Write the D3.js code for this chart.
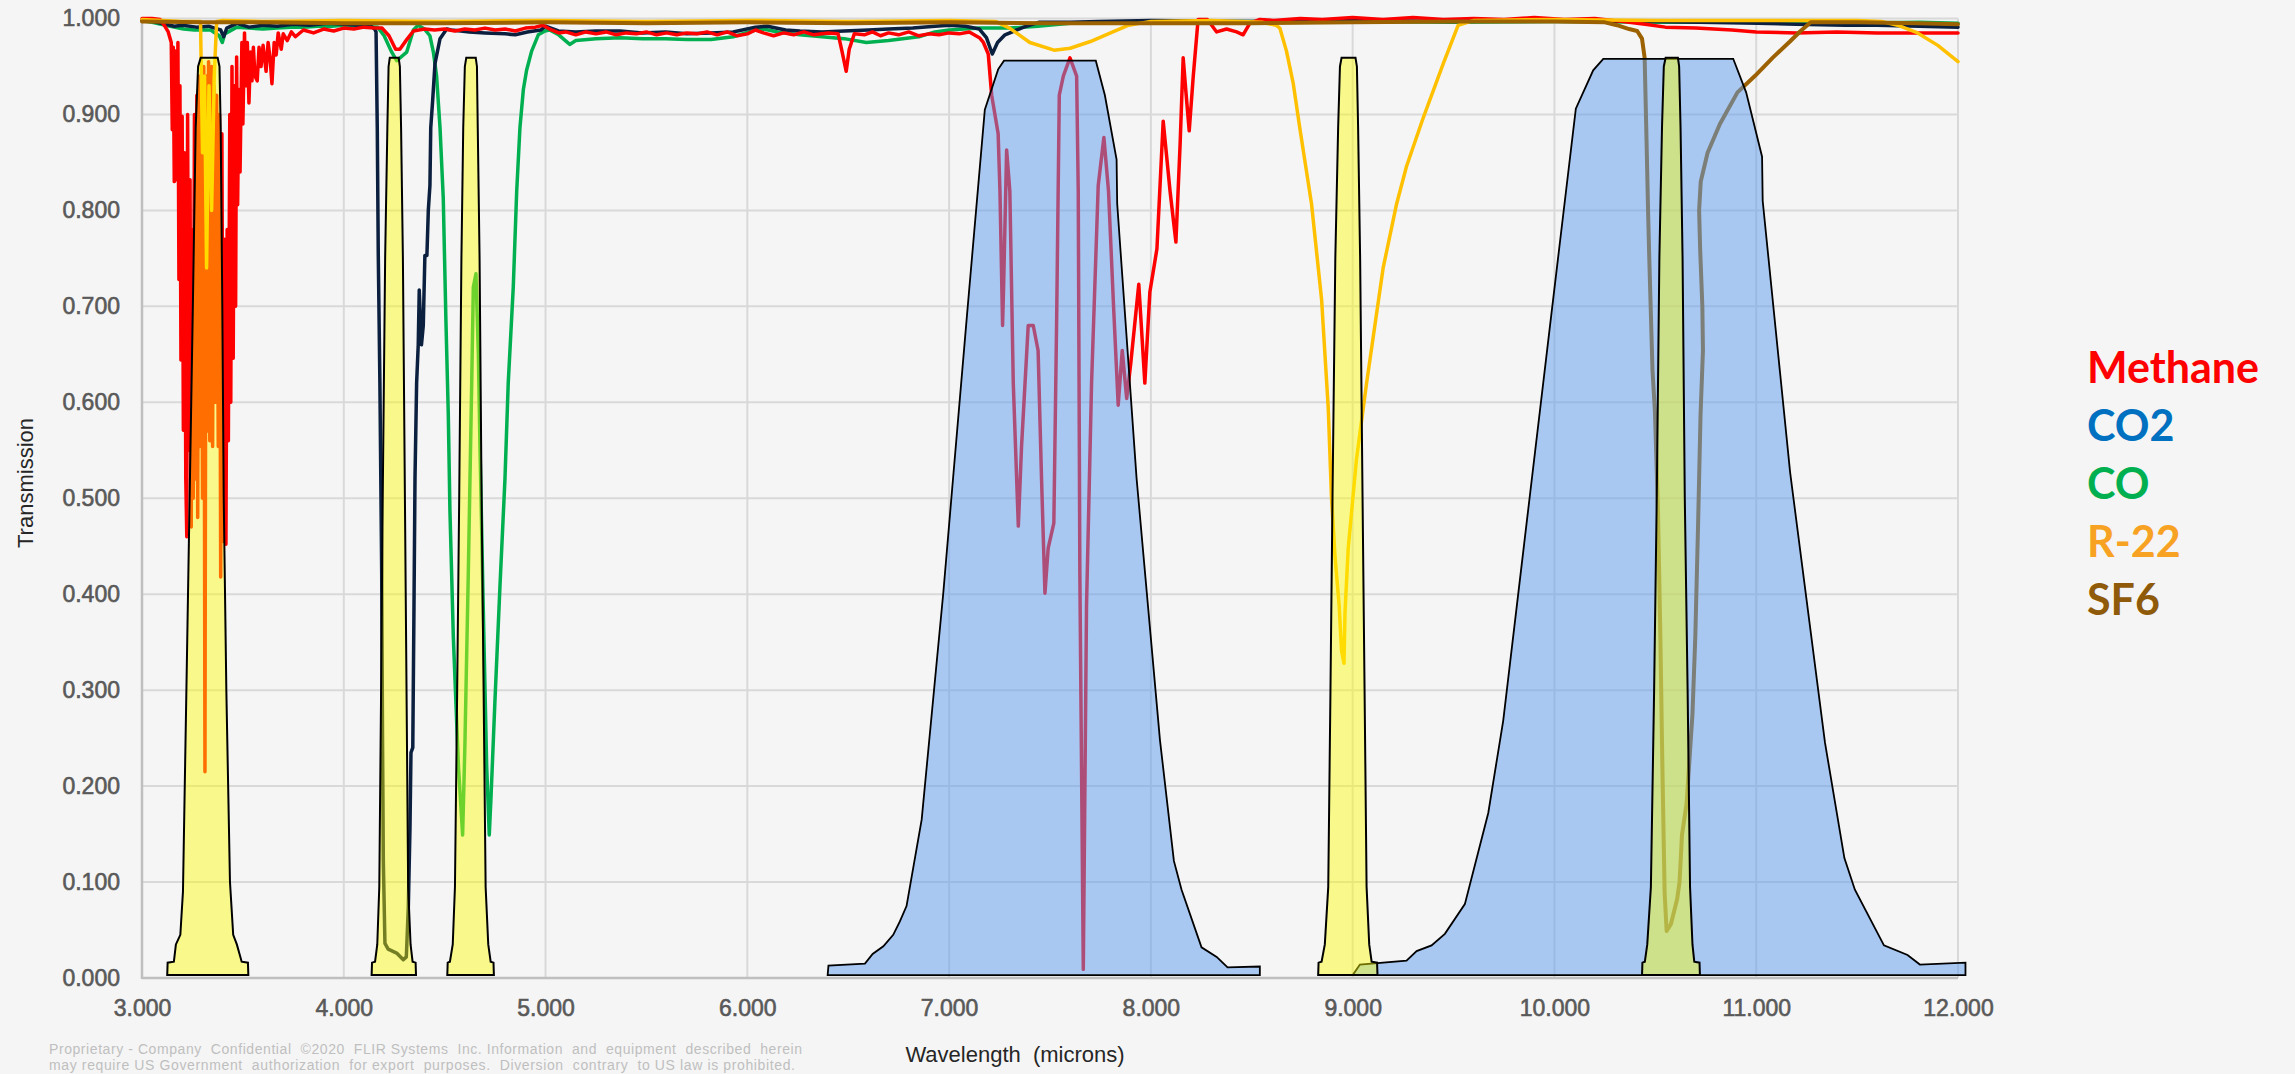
<!DOCTYPE html>
<html>
<head>
<meta charset="utf-8">
<script src="https://cdn.jsdelivr.net/npm/d3@7"></script>
<style>
  html, body { margin: 0; padding: 0; background: #f5f5f5; }
  svg { display: block; }
</style>
</head>
<body>
<div id="chart"></div>
<script>
// ---- data: [wavelength (microns), transmission] ----
const xTicks = [3, 4, 5, 6, 7, 8, 9, 10, 11, 12];
const yTicks = [0, 0.1, 0.2, 0.3, 0.4, 0.5, 0.6, 0.7, 0.8, 0.9, 1.0];

const legendLabels = ['Methane', 'CO2', 'CO', 'R-22', 'SF6'];
const legendColors = ['#ff0000', '#0070c0', '#00b050', '#f8a223', '#8f5b0b'];

const methane = [
  [3.00,1.000],[3.05,1.000],[3.09,0.999],[3.11,0.993],[3.13,0.986],[3.145,0.975],
  [3.150,0.884],[3.155,0.970],[3.160,0.830],[3.166,0.966],[3.172,0.832],[3.178,0.975],
  [3.183,0.728],[3.188,0.930],[3.193,0.644],[3.199,0.898],[3.205,0.571],[3.211,0.860],
  [3.217,0.520],[3.222,0.460],[3.226,0.900],[3.232,0.550],[3.238,0.832],[3.244,0.470],
  [3.250,0.780],[3.254,0.500],[3.260,0.900],[3.266,0.520],[3.272,0.920],[3.276,0.480],
  [3.282,0.940],[3.287,0.554],[3.293,0.930],[3.300,0.500],[3.306,0.950],[3.312,0.215],
  [3.318,0.940],[3.324,0.570],[3.330,0.955],[3.336,0.560],[3.345,0.950],[3.350,0.554],
  [3.356,0.930],[3.362,0.600],[3.370,0.920],[3.378,0.554],[3.384,0.900],[3.390,0.418],
  [3.396,0.880],[3.403,0.455],[3.410,0.770],[3.416,0.452],[3.422,0.780],[3.428,0.560],
  [3.435,0.900],[3.440,0.600],[3.446,0.950],[3.452,0.646],[3.458,0.930],[3.464,0.700],
  [3.469,0.960],[3.474,0.806],[3.480,0.926],[3.486,0.840],[3.495,0.975],[3.500,0.890],
  [3.508,0.985],[3.514,0.930],[3.522,0.975],[3.530,0.912],[3.538,0.965],[3.545,0.935],
  [3.552,0.970],[3.560,0.940],[3.571,0.935],[3.580,0.970],[3.590,0.950],[3.600,0.972],
  [3.615,0.945],[3.625,0.975],[3.635,0.958],[3.644,0.932],[3.655,0.975],[3.665,0.962],
  [3.675,0.985],[3.690,0.968],[3.700,0.984],[3.720,0.977],[3.740,0.986],[3.760,0.981],
  [3.800,0.988],[3.850,0.985],[3.900,0.989],[3.950,0.987],[4.000,0.990],[4.050,0.989],
  [4.100,0.991],[4.150,0.990],[4.190,0.990],[4.224,0.982],[4.257,0.968],[4.278,0.968],
  [4.312,0.978],[4.345,0.987],[4.400,0.989],[4.450,0.988],[4.500,0.989],[4.550,0.987],
  [4.600,0.989],[4.650,0.988],[4.700,0.990],[4.750,0.988],[4.800,0.989],[4.850,0.987],
  [4.900,0.990],[4.950,0.991],[4.987,0.993],[5.020,0.989],[5.065,0.985],[5.100,0.986],
  [5.150,0.983],[5.200,0.986],[5.250,0.984],[5.300,0.986],[5.350,0.983],[5.400,0.985],
  [5.450,0.984],[5.500,0.986],[5.550,0.983],[5.600,0.985],[5.650,0.983],[5.700,0.985],
  [5.750,0.984],[5.800,0.986],[5.850,0.983],[5.900,0.986],[5.950,0.982],[6.000,0.984],
  [6.040,0.988],[6.080,0.985],[6.130,0.982],[6.180,0.985],[6.230,0.983],[6.280,0.986],
  [6.330,0.983],[6.400,0.985],[6.450,0.984],[6.470,0.965],[6.490,0.945],[6.505,0.968],
  [6.530,0.984],[6.580,0.983],[6.620,0.986],[6.660,0.982],[6.700,0.985],[6.750,0.983],
  [6.800,0.986],[6.850,0.982],[6.900,0.984],[6.950,0.983],[7.000,0.985],[7.050,0.984],
  [7.100,0.986],[7.150,0.980],[7.170,0.975],[7.194,0.963],[7.211,0.920],[7.243,0.880],
  [7.252,0.820],[7.265,0.680],[7.270,0.720],[7.285,0.863],[7.301,0.820],[7.318,0.620],
  [7.343,0.471],[7.359,0.554],[7.392,0.680],[7.417,0.680],[7.441,0.654],[7.458,0.521],
  [7.475,0.401],[7.491,0.448],[7.519,0.474],[7.533,0.687],[7.546,0.920],[7.566,0.940],
  [7.599,0.959],[7.632,0.940],[7.640,0.820],[7.648,0.421],[7.665,0.009],[7.681,0.388],
  [7.706,0.620],[7.739,0.826],[7.767,0.876],[7.790,0.820],[7.815,0.700],[7.838,0.597],
  [7.858,0.654],[7.880,0.604],[7.900,0.640],[7.940,0.723],[7.970,0.620],[7.995,0.715],
  [8.030,0.760],[8.061,0.893],[8.095,0.820],[8.124,0.767],[8.145,0.870],[8.160,0.959],
  [8.175,0.920],[8.190,0.883],[8.210,0.940],[8.234,0.999],[8.280,0.999],[8.326,0.986],
  [8.375,0.989],[8.425,0.986],[8.457,0.983],[8.490,0.995],[8.540,0.999],[8.610,0.998],
  [8.740,1.000],[8.850,0.999],[9.000,1.001],[9.150,0.999],[9.300,1.001],[9.450,0.999],
  [9.600,1.000],[9.750,0.999],[9.900,1.001],[10.050,0.999],[10.200,1.000],[10.330,0.997],
  [10.450,0.994],[10.550,0.991],[10.700,0.990],[10.880,0.988],[11.000,0.986],[11.200,0.985],
  [11.400,0.986],[11.600,0.985],[11.800,0.985],[12.000,0.985]
];

const co2 = [
  [3.00,0.998],[3.05,0.997],[3.117,0.994],[3.16,0.992],[3.20,0.993],[3.27,0.991],[3.33,0.992],
  [3.36,0.990],[3.39,0.988],[3.405,0.981],[3.42,0.990],[3.47,0.995],[3.53,0.991],[3.60,0.993],
  [3.67,0.992],[3.75,0.994],[3.83,0.993],[3.92,0.995],[4.00,0.994],[4.07,0.993],[4.135,0.992],
  [4.153,0.989],[4.160,0.986],[4.166,0.886],[4.171,0.753],[4.179,0.620],[4.188,0.421],
  [4.192,0.250],[4.196,0.122],[4.204,0.036],[4.220,0.030],[4.262,0.026],[4.295,0.019],
  [4.310,0.022],[4.320,0.075],[4.328,0.155],[4.333,0.235],[4.342,0.240],[4.348,0.388],
  [4.353,0.521],[4.361,0.620],[4.369,0.660],[4.374,0.717],[4.385,0.660],[4.394,0.680],
  [4.402,0.753],[4.412,0.753],[4.419,0.800],[4.427,0.826],[4.431,0.886],[4.440,0.913],
  [4.452,0.953],[4.477,0.979],[4.510,0.989],[4.533,0.988],[4.58,0.987],[4.622,0.986],
  [4.70,0.985],[4.80,0.984],[4.85,0.983],[4.91,0.986],[4.976,0.988],[5.000,0.992],
  [5.064,0.987],[5.15,0.986],[5.25,0.987],[5.37,0.987],[5.48,0.985],[5.595,0.986],
  [5.70,0.984],[5.82,0.985],[5.93,0.986],[6.04,0.991],[6.10,0.992],[6.19,0.988],[6.26,0.987],
  [6.37,0.986],[6.48,0.987],[6.60,0.988],[6.70,0.989],[6.82,0.990],[6.93,0.992],[7.00,0.993],
  [7.08,0.992],[7.15,0.989],[7.185,0.980],[7.214,0.963],[7.240,0.975],[7.277,0.983],
  [7.37,0.991],[7.444,0.996],[7.60,0.996],[7.74,0.997],[8.00,0.998],[8.5,0.997],[9.0,0.998],
  [9.5,0.997],[10.0,0.998],[10.5,0.997],[11.01,0.995],[11.2,0.994],[11.44,0.993],
  [11.6,0.993],[11.81,0.992],[12.0,0.991]
];

const co = [
  [3.00,0.998],[3.05,0.996],[3.117,0.993],[3.206,0.989],[3.26,0.988],[3.34,0.988],[3.383,0.982],
  [3.398,0.975],[3.41,0.984],[3.47,0.991],[3.53,0.990],[3.60,0.989],[3.67,0.990],[3.737,0.991],
  [3.80,0.991],[3.87,0.992],[3.94,0.992],[4.00,0.993],[4.08,0.992],[4.168,0.991],[4.20,0.982],
  [4.235,0.966],[4.262,0.956],[4.312,0.965],[4.345,0.988],[4.368,0.993],[4.40,0.989],
  [4.427,0.982],[4.444,0.965],[4.460,0.940],[4.477,0.886],[4.493,0.813],[4.506,0.687],
  [4.518,0.587],[4.526,0.488],[4.543,0.355],[4.568,0.222],[4.589,0.149],[4.600,0.240],
  [4.617,0.421],[4.634,0.620],[4.642,0.720],[4.655,0.734],[4.667,0.650],[4.675,0.554],
  [4.691,0.388],[4.708,0.222],[4.721,0.149],[4.730,0.190],[4.749,0.288],[4.774,0.408],
  [4.799,0.521],[4.815,0.620],[4.840,0.720],[4.857,0.820],[4.873,0.886],[4.890,0.926],
  [4.906,0.946],[4.931,0.966],[4.964,0.983],[4.997,0.987],[5.02,0.988],[5.065,0.983],
  [5.12,0.973],[5.15,0.977],[5.25,0.979],[5.37,0.980],[5.48,0.979],[5.595,0.979],[5.70,0.978],
  [5.82,0.978],[5.93,0.981],[6.04,0.988],[6.08,0.989],[6.15,0.986],[6.26,0.983],[6.37,0.981],
  [6.48,0.979],[6.59,0.975],[6.70,0.977],[6.85,0.981],[6.93,0.986],[7.00,0.988],[7.15,0.990],
  [7.30,0.990],[7.44,0.992],[7.60,0.995],[8.0,0.996],[8.5,0.997],[9.0,0.997],[9.5,0.996],
  [10.0,0.997],[10.5,0.996],[11.0,0.996],[11.44,0.995],[11.81,0.996],[12.0,0.995]
];

const r22 = [
  [3.00,0.999],[3.10,0.998],[3.20,0.997],[3.290,0.997],[3.300,0.860],[3.310,0.940],
  [3.320,0.740],[3.332,0.930],[3.345,0.800],[3.358,0.940],[3.370,0.997],[3.40,0.998],
  [3.60,0.997],[4.00,0.998],[4.50,0.997],[5.00,0.998],[5.50,0.997],[6.00,0.998],[6.50,0.997],
  [7.00,0.998],[7.23,0.997],[7.30,0.990],[7.40,0.975],[7.52,0.967],[7.60,0.969],[7.70,0.976],
  [7.80,0.985],[7.89,0.993],[8.00,0.997],[8.30,0.998],[8.55,0.996],[8.62,0.993],[8.639,0.990],
  [8.672,0.966],[8.705,0.933],[8.738,0.886],[8.796,0.807],[8.846,0.707],[8.879,0.594],
  [8.895,0.501],[8.912,0.441],[8.933,0.388],[8.945,0.341],[8.957,0.328],[8.962,0.381],
  [8.978,0.448],[9.019,0.541],[9.069,0.620],[9.151,0.740],[9.218,0.807],[9.267,0.846],
  [9.349,0.896],[9.449,0.953],[9.523,0.993],[9.60,0.998],[10.0,0.999],[10.5,0.998],
  [11.0,0.998],[11.5,0.998],[11.62,0.997],[11.70,0.993],[11.80,0.985],[11.90,0.972],
  [12.00,0.955]
];

const sf6 = [
  [3.00,0.997],[3.3,0.996],[3.6,0.996],[4.0,0.995],[4.5,0.995],[5.0,0.996],[5.5,0.995],
  [6.0,0.996],[6.5,0.995],[7.0,0.996],[7.5,0.995],[8.0,0.995],[8.5,0.995],[9.0,0.996],
  [9.5,0.997],[10.0,0.997],[10.25,0.996],[10.31,0.993],[10.37,0.989],[10.41,0.987],
  [10.434,0.979],[10.447,0.959],[10.455,0.886],[10.464,0.800],[10.470,0.750],[10.486,0.633],
  [10.498,0.590],[10.513,0.488],[10.525,0.355],[10.535,0.220],[10.546,0.089],[10.556,0.049],
  [10.577,0.056],[10.608,0.082],[10.620,0.100],[10.632,0.149],[10.655,0.182],[10.684,0.275],
  [10.698,0.355],[10.712,0.474],[10.724,0.587],[10.736,0.654],[10.733,0.700],[10.722,0.760],
  [10.717,0.800],[10.725,0.830],[10.759,0.860],[10.820,0.890],[10.907,0.923],[10.993,0.940],
  [11.081,0.959],[11.167,0.976],[11.220,0.987],[11.270,0.996],[11.500,0.996],[11.800,0.995],
  [12.000,0.994]
];

// narrow (yellow) and wide (blue) filter pass-bands
const filter33 = [
  [3.125,0.003],[3.127,0.016],[3.158,0.017],[3.168,0.035],[3.190,0.045],[3.203,0.090],
  [3.220,0.300],[3.236,0.500],[3.252,0.700],[3.266,0.886],[3.278,0.950],[3.291,0.959],
  [3.375,0.959],[3.384,0.950],[3.390,0.886],[3.398,0.700],[3.405,0.500],[3.418,0.300],
  [3.436,0.100],[3.452,0.045],[3.470,0.035],[3.494,0.017],[3.525,0.016],[3.527,0.003]
];
const filter425 = [
  [4.138,0.003],[4.140,0.016],[4.155,0.017],[4.166,0.035],[4.176,0.095],[4.185,0.300],
  [4.193,0.500],[4.205,0.750],[4.216,0.886],[4.222,0.950],[4.228,0.959],[4.272,0.959],
  [4.278,0.950],[4.284,0.886],[4.293,0.750],[4.303,0.500],[4.311,0.300],[4.319,0.095],
  [4.331,0.035],[4.341,0.017],[4.356,0.016],[4.358,0.003]
];
const filter463 = [
  [4.513,0.003],[4.515,0.016],[4.526,0.017],[4.540,0.035],[4.551,0.095],[4.562,0.300],
  [4.572,0.500],[4.583,0.750],[4.592,0.886],[4.600,0.950],[4.607,0.959],[4.654,0.959],
  [4.660,0.950],[4.664,0.886],[4.673,0.750],[4.683,0.500],[4.693,0.300],[4.703,0.095],
  [4.716,0.035],[4.728,0.017],[4.742,0.016],[4.744,0.003]
];
const filter898 = [
  [8.829,0.003],[8.831,0.016],[8.846,0.017],[8.862,0.035],[8.879,0.095],[8.890,0.300],
  [8.900,0.500],[8.914,0.750],[8.928,0.886],[8.937,0.950],[8.945,0.959],[9.014,0.959],
  [9.021,0.950],[9.027,0.886],[9.037,0.750],[9.049,0.500],[9.059,0.300],[9.069,0.095],
  [9.082,0.035],[9.094,0.017],[9.121,0.016],[9.123,0.003]
];
const filter1058 = [
  [10.434,0.003],[10.436,0.016],[10.448,0.017],[10.460,0.035],[10.478,0.095],[10.494,0.300],
  [10.507,0.500],[10.520,0.750],[10.533,0.886],[10.542,0.950],[10.551,0.959],[10.612,0.959],
  [10.618,0.950],[10.625,0.886],[10.635,0.750],[10.646,0.500],[10.660,0.300],[10.672,0.095],
  [10.684,0.035],[10.693,0.017],[10.719,0.016],[10.721,0.003]
];
const filterWide75 = [
  [6.398,0.003],[6.402,0.013],[6.583,0.015],[6.621,0.025],[6.674,0.033],[6.723,0.045],
  [6.756,0.059],[6.789,0.075],[6.864,0.165],[6.971,0.401],[7.087,0.687],[7.177,0.905],
  [7.243,0.947],[7.272,0.956],[7.727,0.956],[7.772,0.920],[7.830,0.853],[7.833,0.807],
  [7.929,0.521],[8.045,0.248],[8.114,0.122],[8.152,0.092],[8.251,0.032],[8.326,0.022],
  [8.380,0.011],[8.540,0.012],[8.540,0.003]
];
const filterWide105 = [
  [9.000,0.003],[9.036,0.014],[9.267,0.018],[9.317,0.028],[9.391,0.034],[9.457,0.046],
  [9.556,0.077],[9.672,0.172],[9.746,0.268],[9.862,0.474],[9.986,0.694],[10.106,0.906],
  [10.192,0.946],[10.242,0.958],[10.886,0.958],[10.950,0.923],[11.029,0.856],[11.032,0.810],
  [11.168,0.527],[11.341,0.245],[11.437,0.125],[11.489,0.092],[11.633,0.034],[11.750,0.024],
  [11.811,0.014],[12.037,0.016],[12.037,0.003]
];

// ---- drawing ----
const width = 2295;
const height = 1074;
const axisFont = '"Liberation Sans", Arial, sans-serif';

const svg = d3.select('#chart')
  .append('svg')
    .attr('width', width)
    .attr('height', height);

svg.append('rect')
  .attr('width', width)
  .attr('height', height)
  .attr('fill', '#f5f5f5');

const x = d3.scaleLinear().domain([3, 12]).range([142, 1958]);
const y = d3.scaleLinear().domain([0, 1]).range([978, 18.5]);

// grid lines
const grid = svg.append('g').attr('class', 'grid');
grid.selectAll('.hgrid')
  .data(yTicks.slice(1))
  .enter()
    .append('line')
      .attr('x1', x(3))
      .attr('x2', x(12))
      .attr('y1', d => y(d))
      .attr('y2', d => y(d))
      .attr('stroke', '#d9d9d9')
      .attr('stroke-width', 2);
grid.selectAll('.vgrid')
  .data(xTicks.slice(1))
  .enter()
    .append('line')
      .attr('x1', d => x(d))
      .attr('x2', d => x(d))
      .attr('y1', y(0))
      .attr('y2', y(1))
      .attr('stroke', '#d9d9d9')
      .attr('stroke-width', 2);

// axis lines
svg.append('line')
  .attr('x1', x(3)).attr('x2', x(3))
  .attr('y1', y(0) + 1).attr('y2', y(1))
  .attr('stroke', '#bfbfbf').attr('stroke-width', 2.5);
svg.append('line')
  .attr('x1', x(3)).attr('x2', x(12))
  .attr('y1', y(0)).attr('y2', y(0))
  .attr('stroke', '#bfbfbf').attr('stroke-width', 2.5);

// tick labels
const fmt = d3.format('.3f');
const yAxis = d3.axisLeft(y).tickValues(yTicks).tickFormat(fmt).tickSize(0).tickPadding(22);
const xAxis = d3.axisBottom(x).tickValues(xTicks).tickFormat(fmt).tickSize(0).tickPadding(22);

svg.append('g')
  .attr('transform', `translate(${x(3)},0)`)
  .call(yAxis)
  .call(g => g.select('.domain').remove())
  .attr('font-family', axisFont)
  .attr('font-size', 23)
  .selectAll('text')
    .attr('fill', '#595959')
    .attr('stroke', '#595959')
    .attr('stroke-width', 0.6);

svg.append('g')
  .attr('transform', `translate(0,${y(0)})`)
  .call(xAxis)
  .call(g => g.select('.domain').remove())
  .attr('font-family', axisFont)
  .attr('font-size', 23)
  .selectAll('text')
    .attr('fill', '#595959')
    .attr('stroke', '#595959')
    .attr('stroke-width', 0.6);

// gas transmission lines
const line = d3.line()
  .x(d => x(d[0]))
  .y(d => y(d[1]));

const gases = [
  { data: co, color: '#00b050', w: 3.5 },
  { data: co2, color: '#0b1f3f', w: 3.5 },
  { data: methane, color: '#ff0000', w: 3.5 },
  { data: r22, color: '#ffc000', w: 3.5 },
  { data: sf6, color: '#9c6100', w: 4 }
];
svg.append('g')
  .selectAll('path')
  .data(gases)
  .enter()
    .append('path')
      .attr('d', d => line(d.data))
      .attr('fill', 'none')
      .attr('stroke', d => d.color)
      .attr('stroke-width', d => d.w)
      .attr('stroke-linejoin', 'round')
      .attr('stroke-linecap', 'round');

// filters drawn over the lines, semi transparent
svg.append('g')
  .selectAll('path')
  .data([filterWide75, filterWide105])
  .enter()
    .append('path')
      .attr('d', d => line(d) + 'Z')
      .attr('fill', 'rgb(91,155,240)')
      .attr('fill-opacity', 0.5)
      .attr('stroke', '#000')
      .attr('stroke-width', 1.8);

svg.append('g')
  .selectAll('path')
  .data([filter33, filter425, filter463, filter898, filter1058])
  .enter()
    .append('path')
      .attr('d', d => line(d) + 'Z')
      .attr('fill', '#ffff00')
      .attr('fill-opacity', 0.43)
      .attr('stroke', '#000')
      .attr('stroke-width', 2);

// axis titles
svg.append('text')
  .attr('transform', 'translate(33,483) rotate(-90)')
  .attr('text-anchor', 'middle')
  .attr('font-family', axisFont)
  .attr('font-size', 22)
  .attr('fill', '#262626')
  .text('Transmission');

svg.append('text')
  .attr('x', 1015)
  .attr('y', 1062)
  .attr('text-anchor', 'middle')
  .attr('font-family', axisFont)
  .attr('font-size', 22)
  .attr('fill', '#262626')
  .attr('xml:space', 'preserve')
  .text('Wavelength  (microns)');

// footer
const footer = [
  'Proprietary - Company  Confidential  ©2020  FLIR Systems  Inc. Information  and  equipment  described  herein',
  'may require US Government  authorization  for export  purposes.  Diversion  contrary  to US law is prohibited.'
];
svg.append('g')
  .selectAll('text')
  .data(footer)
  .enter()
    .append('text')
      .attr('x', 49)
      .attr('y', (d, i) => 1054 + i * 16)
      .attr('font-family', axisFont)
      .attr('font-size', 14)
      .attr('fill', '#bfbfbf')
      .attr('xml:space', 'preserve')
      .attr('textLength', (d, i) => i ? 746 : 753)
      .attr('lengthAdjust', 'spacing')
      .text(d => d);

// legend (coloured labels only)
svg.append('g')
  .selectAll('text')
  .data(legendLabels)
  .enter()
    .append('text')
      .attr('x', 2087)
      .attr('y', (d, i) => 383 + i * 58)
      .attr('font-family', 'Lato, "Open Sans", sans-serif')
      .attr('font-weight', 700)
      .attr('font-size', 43)
      .attr('fill', (d, i) => legendColors[i])
      .text(d => d);
</script>
</body>
</html>
